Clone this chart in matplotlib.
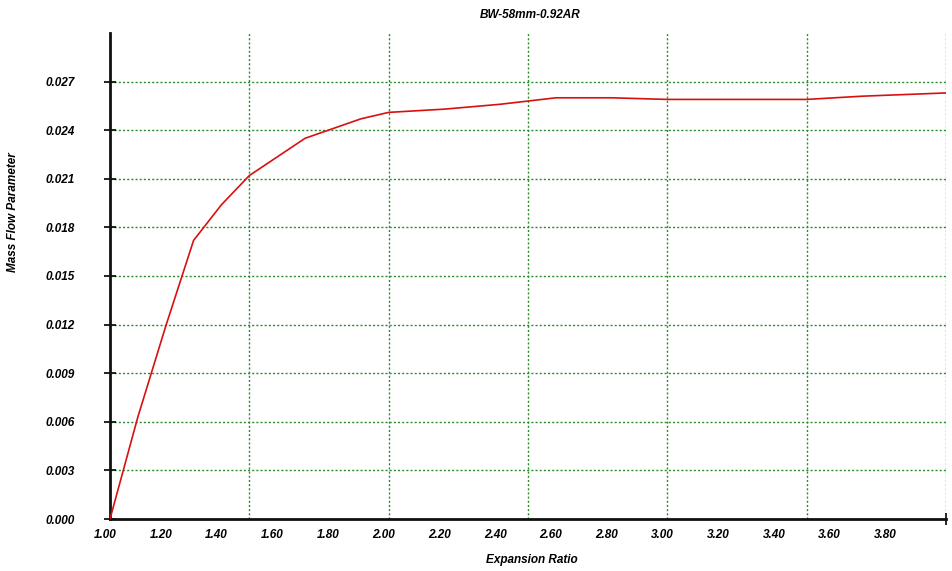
import numpy as np
import matplotlib.pyplot as plt
import matplotlib.transforms as mtransforms
from matplotlib.ticker import FormatStrFormatter

# expansion ratio vs mass flow parameter
expansion_ratio = [1.0, 1.1, 1.2, 1.3, 1.4, 1.5, 1.7, 1.9, 2.0, 2.2, 2.4,
                   2.6, 2.8, 3.0, 3.2, 3.5, 3.7, 4.0]
mass_flow = [0.0, 0.0063, 0.0119, 0.0172, 0.0194, 0.0212, 0.0235, 0.0247,
             0.0251, 0.0253, 0.0256, 0.0260, 0.0260, 0.0259, 0.0259,
             0.0259, 0.0261, 0.0263]

x_labels = np.arange(1.0, 3.81, 0.2)
x_marks = [1.0, 2.0, 3.0, 4.0]
x_grid = [1.5, 2.0, 2.5, 3.0, 3.5, 4.0]
y_ticks = np.arange(0.0, 0.0271, 0.003)

plt.rcParams['font.family'] = ['Liberation Sans', 'DejaVu Sans']
font = dict(fontsize=8.5, fontweight='bold', fontstyle='italic')
grid_color = '#2a8c2a'

fig = plt.figure(figsize=(9.52, 5.71), dpi=100)
ax = fig.add_axes([110 / 952, 52 / 571, 836 / 952, 486 / 571])

# grid first so the curve sits on top
for gx in x_grid:
    ax.axvline(gx, color=grid_color, linestyle=(0, (1.5, 1.5)), linewidth=1.0, zorder=1)
ax.yaxis.grid(True, color=grid_color, linestyle=(0, (1.5, 1.5)), linewidth=1.0)
ax.set_axisbelow(True)

ax.plot(expansion_ratio, mass_flow, color='#d81010', linewidth=1.2, zorder=3)

ax.set_xlim(1.0, 4.0)
ax.set_ylim(0.0, 0.030)

# labels every 0.2 but tick marks only at whole numbers
ax.set_xticks(x_labels)
ax.set_xticklabels(['%.2f' % v for v in x_labels], **font)
ax.tick_params(axis='x', which='major', length=0, pad=7)
shift = mtransforms.ScaledTranslation(-5 / 100, 0, fig.dpi_scale_trans)
for lbl in ax.get_xticklabels():
    lbl.set_transform(lbl.get_transform() + shift)
ax.set_xticks(x_marks, minor=True)
ax.tick_params(axis='x', which='minor', direction='inout', length=8, width=1.2)

ax.set_yticks(y_ticks)
ax.yaxis.set_major_formatter(FormatStrFormatter('%.3f'))
for lbl in ax.get_yticklabels():
    lbl.set_fontsize(8.5)
    lbl.set_fontweight('bold')
    lbl.set_fontstyle('italic')
ax.tick_params(axis='y', direction='inout', length=9, width=1.2, pad=21)

for side in ['top', 'right']:
    ax.spines[side].set_visible(False)
for side in ['left', 'bottom']:
    ax.spines[side].set_linewidth(2)
    ax.spines[side].set_color('#111111')

fig.text(530 / 952, 1 - 15 / 571, 'BW-58mm-0.92AR', ha='center', va='center', **font)
fig.text(532 / 952, 1 - 560 / 571, 'Expansion Ratio', ha='center', va='center', **font)
fig.text(13 / 952, 1 - 212 / 571, 'Mass Flow Parameter', rotation=90,
         ha='center', va='center', **font)

fig.savefig('out.png', dpi=100)
